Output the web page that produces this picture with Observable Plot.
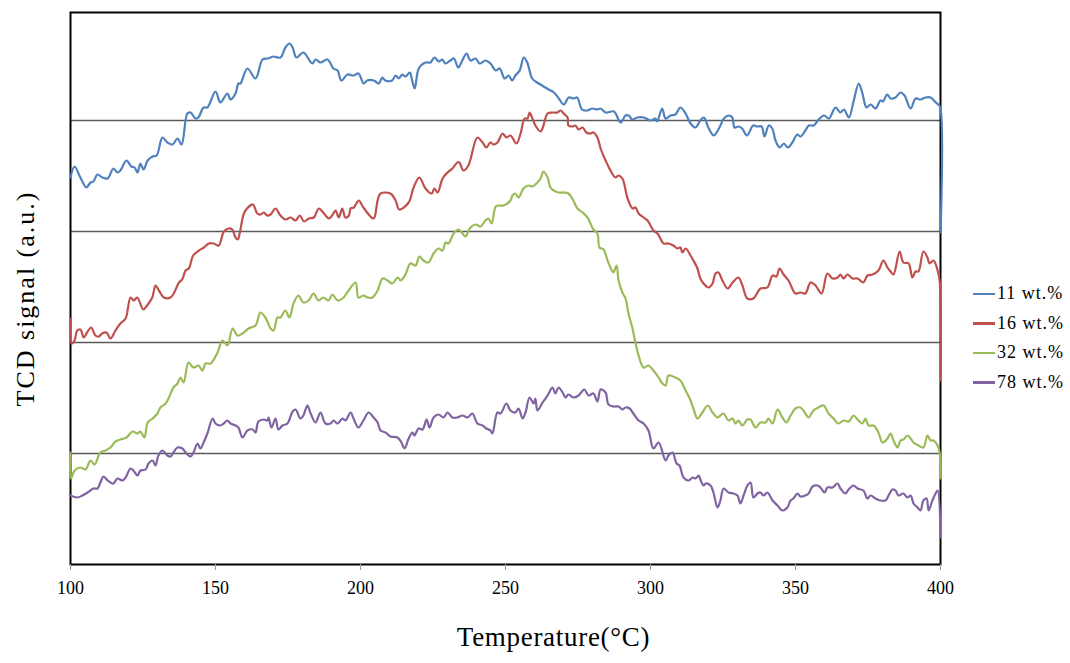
<!DOCTYPE html>
<html><head><meta charset="utf-8">
<script src="https://cdn.jsdelivr.net/npm/d3@7"></script>
<script src="https://cdn.jsdelivr.net/npm/@observablehq/plot@0.6"></script>
<style>
body{margin:0;background:#fff;}
#wrap{position:relative;width:1070px;height:663px;font-family:"Liberation Serif",serif;}
.legend{position:absolute;left:973px;top:279px;}
.row{display:flex;align-items:center;height:29.5px;font-size:18px;letter-spacing:1px;color:#000;white-space:nowrap;}
.sw{width:22px;height:2.5px;margin-right:2px;}
</style></head><body><div id="wrap"></div>
<script>
const seriesNames = ["11 wt.%", "16 wt.%", "32 wt.%", "78 wt.%"];
const seriesColors = ["#4F81BD", "#C0504D", "#9BBB59", "#8064A2"];
const xTicks = [100, 150, 200, 250, 300, 350, 400];
const gridLevels = [111, 222, 333, 444];
const xTitle = "Temperature(°C)";
const yTitle = "TCD signal (a.u.)";

// [temperature °C, TCD signal a.u.]
const s11 = [[100,387],[101.4,398],[103.4,387],[105.5,377],[106.9,382],[107.9,383],[109.3,390],[111,387],[112.8,386],[114.8,396],[116.2,392],[117.2,394],[119.3,404],[121,398],[122.1,397],[123.1,392],[124.1,401],[125.2,395],[126.6,404],[128.3,408],[129.7,409],[131.7,427],[133.4,422],[135.2,420],[136.9,426],[138.3,420],[140.3,451],[141.4,452],[143.1,446],[144.1,447],[145.9,457],[147.2,457],[150,473],[151.7,462],[154.1,471],[155.2,465],[156.9,471],[157.9,481],[158.6,481],[161,496],[163.8,486],[166.2,505],[167.9,506],[169,507],[170,508],[172.4,507],[174.1,517],[175.5,521],[176.6,517],[177.9,507],[180.3,512],[183.4,501],[184.5,505],[186.2,502],[188.6,505],[190.7,496],[192.1,494],[193.4,484],[195.5,490],[197.6,489],[199.3,491],[201.1,481],[202.3,484],[204.6,484],[206.3,481],[207.5,487],[208.6,484],[210.9,484],[212.1,489],[213.2,486],[214.4,490],[215.5,488],[217,492],[217.8,484],[218.7,476],[220.1,496],[222.4,502],[224.1,502],[225.5,507],[227,503],[228.2,505],[229.3,501],[231,504],[232.2,506],[233.7,497],[235.1,504],[236.6,511],[237.9,504],[239.7,506],[241.1,501],[243.1,504],[244.8,501],[246.6,494],[248,496],[249.7,486],[251.1,489],[252.3,484],[253.4,489],[254.9,494],[256.3,507],[257.5,502],[259.2,486],[260.9,482],[262.6,479],[264.9,475],[266.7,472],[268.4,466],[270.1,460],[271.8,467],[273.6,466],[274.7,467],[276.4,455],[278.2,454],[279.9,456],[281.6,455],[282.8,456],[284.5,452],[287.4,453],[289.7,442],[291.4,449],[292.5,449],[293.7,445],[295.4,447],[297.7,447],[300,444],[301.7,446],[302.3,443],[304,456],[305.2,446],[306.9,449],[308.6,450],[310.3,457],[312.1,451],[313.8,441],[315.5,437],[317.2,444],[318.4,447],[320.1,436],[321.8,429],[323.6,436],[325.3,446],[327,449],[328.2,447],[329,437],[330.5,438],[331.6,436],[333.3,429],[335.4,439],[336.8,438],[338.3,438],[339.3,428],[340.8,439],[342,436],[343.1,424],[344.5,417],[346,421],[347.4,417],[348.9,422],[350.6,430],[351.7,428],[353.4,434],[354.6,439],[356.3,439],[358,445],[359.8,449],[361.5,446],[363.8,457],[365.5,452],[366.7,455],[368.4,447],[370.1,464],[371.8,481],[373,472],[374.5,457],[375.9,460],[377.6,456],[379.3,464],[380.2,463],[381.6,470],[382.8,466],[384.5,467],[386.2,472],[387.6,469],[389.7,456],[391.4,466],[393.1,465],[394.8,467],[396.6,467],[397.7,464],[398.8,461],[399.8,458],[400,332]];

const s16 = [[100,246],[100.4,221],[101.4,224],[102.3,234],[103.4,235],[104.6,227],[105.7,232],[107.1,237],[108.6,229],[109.8,228],[110.9,231],[112.4,232],[113.8,226],[115.5,234],[117.2,241],[119,246],[120.7,267],[121.8,264],[123,267],[125.1,255],[126.4,259],[128.2,267],[129.3,279],[130.5,274],[132.2,267],[134.5,267],[135.6,271],[137.4,282],[138.5,285],[139.7,294],[140.8,296],[142.3,309],[144.3,314],[146,317],[147.7,321],[149.4,321],[151.1,319],[152.9,333],[154.6,336],[155.8,335],[156.9,327],[157.7,325],[158.4,332],[159.8,351],[161.2,357],[162.9,360],[164.4,351],[165.5,350],[166.7,352],[167.8,349],[169,350],[170.7,356],[172.4,349],[174.1,345],[175.9,347],[177.6,344],[179.1,349],[180.5,343],[182.2,346],[183.9,347],[185.6,356],[187.4,351],[189.1,346],[190.2,349],[191.4,354],[192.5,347],[193.7,356],[194.8,347],[196,349],[196.6,356],[197.7,357],[199.4,364],[201,357],[204.5,346],[205.9,364],[206.9,371],[210.3,371],[212.1,364],[213.4,355],[216.6,362],[218.3,377],[220.3,387],[222.4,376],[224.5,371],[225.5,376],[226.6,372],[228.3,386],[230,392],[231.7,396],[233.4,402],[234.1,402],[235.5,394],[237.2,399],[240.3,427],[242.1,422],[243.4,417],[244.8,422],[245.9,420],[247.2,422],[249,431],[250.3,427],[251.7,429],[253.8,421],[255.2,431],[256.6,446],[257.6,446],[258.3,452],[259.3,446],[260.3,439],[262.1,433],[263.1,439],[264.5,451],[266.2,452],[267.9,452],[269,454],[270,451],[271.4,447],[271.7,439],[273.1,438],[274.1,439],[275.2,435],[276.6,437],[277.9,432],[279.3,431],[280.3,432],[281.7,427],[282.8,416],[284.5,404],[286.2,394],[287.9,387],[289,389],[290.3,386],[292.1,366],[293.8,356],[294.8,357],[295.9,351],[297.6,347],[299,344],[300,339],[301,334],[302.4,331],[303.4,326],[304.5,321],[306.2,321],[307.9,319],[309.3,316],[310.3,317],[311,312],[312.1,316],[313.8,309],[314.8,304],[316.2,296],[317.2,286],[318.3,281],[320,277],[321.4,281],[322.4,291],[323.4,292],[324.8,284],[326.6,276],[328.3,282],[330.3,287],[331.7,279],[333.4,266],[335.5,266],[337.9,276],[340.3,277],[342.1,289],[343.4,288],[344.5,296],[345.9,290],[347.6,284],[350,271],[351.7,272],[353.4,271],[355.2,282],[356.9,279],[359,271],[361,291],[362.8,286],[364.5,287],[365.5,290],[366.6,286],[367.9,290],[369.7,286],[371.4,286],[373.4,282],[374.8,289],[376.6,290],[378.6,294],[380.3,304],[381.7,297],[382.8,293],[383.8,290],[385.9,313],[387.2,302],[389,301],[390.3,287],[391.4,293],[392.4,293],[394.1,313],[395.5,307],[396.2,301],[397.6,304],[399,294],[399.7,284],[400,184]];

const s32 = [[100,112],[100.2,86],[101.4,94],[103.4,97],[105.2,95],[106.9,104],[108.3,100],[110.3,112],[112.1,114],[113.8,117],[115.5,123],[117.2,125],[119.3,127],[121.4,133],[123.1,131],[124.1,133],[125.5,127],[126.6,142],[128.3,146],[130,151],[131,157],[132.8,161],[133.8,166],[135.5,177],[136.9,181],[137.9,187],[139,182],[140.7,202],[142.4,197],[144.1,199],[145.5,194],[146.6,201],[148.3,201],[150.7,212],[152.4,224],[154.1,219],[155.9,236],[157.6,229],[159.3,231],[161.4,236],[163.8,239],[165.5,252],[167.2,247],[169,236],[170,234],[171.4,247],[172.4,247],[174.1,254],[175.5,247],[176.9,261],[178.6,269],[180.3,262],[182.1,264],[183.8,271],[185.5,264],[187.2,267],[189,264],[190.3,270],[192.1,264],[193.8,266],[195.9,274],[198.3,282],[199.3,267],[201,269],[202.4,267],[204.1,267],[205.9,274],[207.6,286],[209.3,284],[211,281],[212.8,287],[213.8,284],[215.5,290],[217.2,301],[219,299],[220.3,308],[221.7,304],[223.4,302],[225.2,311],[226.9,316],[228.3,314],[229.3,322],[230.3,321],[232.1,331],[233.8,335],[235.2,331],[236.2,328],[237.9,337],[239.7,340],[241.4,338],[243.1,344],[244.1,346],[245.2,341],[246.6,358],[247.6,359],[249.3,359],[251.7,364],[252.4,369],[253.4,371],[254.5,367],[256.2,376],[257.9,379],[259.3,378],[261,382],[262.1,386],[263.1,393],[264.5,387],[265.5,377],[266.6,374],[268.3,372],[270,372],[271.7,371],[273.4,364],[274.8,356],[276.6,352],[278.3,347],[279.3,341],[280.3,335],[281.7,331],[282.4,317],[283.8,315],[285.2,304],[286.2,297],[287.2,292],[288.3,299],[289,284],[290.3,272],[291.4,266],[292.4,251],[293.8,236],[294.8,222],[295.9,209],[297.6,197],[299.3,199],[301,194],[302.8,187],[304.1,181],[305.2,179],[306.2,189],[308.6,187],[310.3,184],[312.1,174],[313.8,164],[314.8,156],[316.2,146],[317.9,152],[319.7,159],[321.4,152],[323.1,147],[324.1,149],[325.2,151],[326.9,144],[328.3,146],[329.3,141],[330.3,144],[331.7,139],[333.4,145],[334.5,145],[336.2,137],[337.9,142],[339.7,142],[340.7,146],[342.1,141],[343.8,155],[345.5,147],[346.9,142],[348.3,149],[350,156],[351.7,157],[353.4,151],[354.5,147],[356.2,154],[357.9,157],[359.7,159],[361.4,151],[363.1,146],[364.8,141],[366.6,144],[368.3,143],[370,149],[371.4,145],[373.1,141],[374.1,146],[375.2,139],[376.9,139],[378.6,132],[380,122],[381.7,126],[382.8,131],[383.8,124],[385.2,117],[386.2,124],[387.2,125],[388.6,129],[389.7,126],[390.7,122],[392.4,119],[394.1,117],[395.5,129],[396.6,124],[397.6,124],[399,119],[399.7,112],[400,86]];

const s78 = [[100,69],[102.4,67],[104.1,69],[105.9,72],[107.9,76],[109.3,76],[110.3,82],[111.4,88],[112.8,84],[113.8,82],[114.8,81],[116.2,86],[117.9,84],[119,87],[120.7,96],[121.7,94],[123.1,89],[124.1,94],[125.9,95],[126.9,101],[128.3,104],[129.3,99],[130.3,109],[131.7,114],[133.4,109],[134.5,108],[135.5,112],[136.9,117],[138.6,116],[139.7,112],[141.4,108],[142.4,112],[143.8,121],[144.8,116],[145.9,122],[147.2,131],[149,146],[150,141],[151.7,139],[152.8,141],[154.1,144],[155.2,141],[156.9,139],[157.9,137],[159.3,127],[161,134],[162.8,135],[163.8,132],[164.8,143],[166.6,145],[167.9,144],[168.3,147],[169.3,137],[170.7,146],[171.7,135],[173.1,139],[174.8,141],[176.6,153],[177.6,155],[179.3,146],[180.3,149],[181.7,159],[182.8,151],[184.5,142],[186.2,152],[187.9,141],[189.7,141],[190.7,144],[192.1,141],[193.8,146],[194.8,144],[196.6,152],[197.6,146],[199.3,137],[201,144],[202.8,152],[204.5,147],[205.9,142],[206.9,134],[208.6,132],[210.3,128],[212.8,127],[214.1,122],[215.2,116],[216.6,126],[217.9,132],[218.6,129],[220,136],[221.4,135],[222.8,145],[223.8,137],[225.2,147],[226.9,150],[228.6,147],[230,152],[231.7,147],[233.4,147],[235.2,149],[236.9,147],[238.6,151],[240.3,141],[242.1,139],[243.4,136],[244.8,134],[245.5,131],[247.2,152],[248.3,151],[250.3,161],[251.7,154],[253.4,152],[254.5,156],[255.9,146],[256.9,152],[258.3,167],[259.7,161],[260.3,166],[261,154],[262.8,162],[264.5,169],[266.2,177],[267.2,171],[268.3,177],[269.7,172],[270.7,167],[271.7,170],[273.4,167],[275.2,169],[277.2,175],[278.6,169],[280.3,171],[281.7,163],[282.8,175],[284.5,172],[285.5,160],[287.2,158],[289,158],[290.3,155],[291.4,157],[292.8,156],[294.1,151],[295.9,144],[297.6,141],[299.3,134],[301,116],[302.8,122],[305.2,104],[306.2,109],[307.6,112],[309,101],[310,99],[311.4,87],[313.1,84],[314.5,87],[315.5,86],[316.6,89],[317.2,85],[318.3,79],[319,81],[320.7,79],[321.7,72],[323.1,57],[324.1,64],[325.2,76],[326.9,72],[328.6,71],[330,69],[331,61],[332.1,69],[333.4,79],[334.5,82],[335.5,67],[336.9,71],[337.9,72],[339,69],[340.3,72],[342.1,64],[343.8,59],[345.5,54],[347.2,57],[348.3,64],[349.3,66],[350.7,71],[351.7,68],[353.4,69],[354.5,71],[355.9,78],[357.6,79],[358.6,77],[360,72],[361,77],[362.8,77],[364.5,81],[365.5,76],[367.2,71],[368.3,75],[370,79],[371.4,76],[373.4,74],[374.8,66],[375.9,69],[377.6,66],[379.3,64],[381,64],[382.1,69],[383.4,75],[384.5,74],[385.5,69],[387.2,71],[388.6,67],[389.7,69],[390.7,61],[392.1,57],[393.1,54],[394.1,64],[395.2,66],[395.9,54],[397.2,64],[398.3,71],[399,74],[400,27]];

const seriesData = [s11, s16, s32, s78];
const rows = seriesData.flatMap((pts, i) => pts.map(([t, v]) => ({series: seriesNames[i], t, v})));

const chart = Plot.plot({
  width: 1070, height: 663,
  marginLeft: 70, marginRight: 130, marginTop: 12, marginBottom: 99,
  style: {fontFamily: "'Liberation Serif', serif", fontSize: "18px", color: "#000", background: "#fff"},
  x: {domain: [100, 400]},
  y: {domain: [0, 552], axis: null},
  color: {domain: seriesNames, range: seriesColors},
  marks: [
    Plot.ruleY(gridLevels, {stroke: "#5a5a5a", strokeWidth: 1.3}),
    Plot.frame({stroke: "#000", strokeWidth: 2}),
    Plot.line(rows, {x: "t", y: "v", z: "series", stroke: "series", strokeWidth: 2.2, curve: "catmull-rom"}),
    Plot.axisX({ticks: xTicks, tickSize: 6, stroke: "#999", tickPadding: 11, label: null, fontSize: 18, tickFormat: d => String(d)}),
    Plot.text([yTitle], {text: d => d, frameAnchor: "left", textAnchor: "middle", dx: -45, dy: 10, rotate: -90, fontSize: 26, fill: "#000"}),
    Plot.text([xTitle], {text: d => d, frameAnchor: "bottom", textAnchor: "middle", dx: 48, dy: 81, fontSize: 27, fill: "#000"})
  ]
});
d3.select(chart).selectAll("text").filter(function(){ return this.textContent === yTitle; }).attr("letter-spacing", "2px");
d3.select(chart).selectAll("text").filter(function(){ return this.textContent === xTitle; }).attr("letter-spacing", "0.7px");

const wrap = document.getElementById("wrap");
wrap.appendChild(chart);
const legend = document.createElement("div");
legend.className = "legend";
seriesNames.forEach((n, i) => {
  const r = document.createElement("div");
  r.className = "row";
  const sw = document.createElement("div");
  sw.className = "sw";
  sw.style.background = seriesColors[i];
  const s = document.createElement("span");
  s.textContent = n;
  r.appendChild(sw); r.appendChild(s);
  legend.appendChild(r);
});
wrap.appendChild(legend);
</script>
</body></html>
